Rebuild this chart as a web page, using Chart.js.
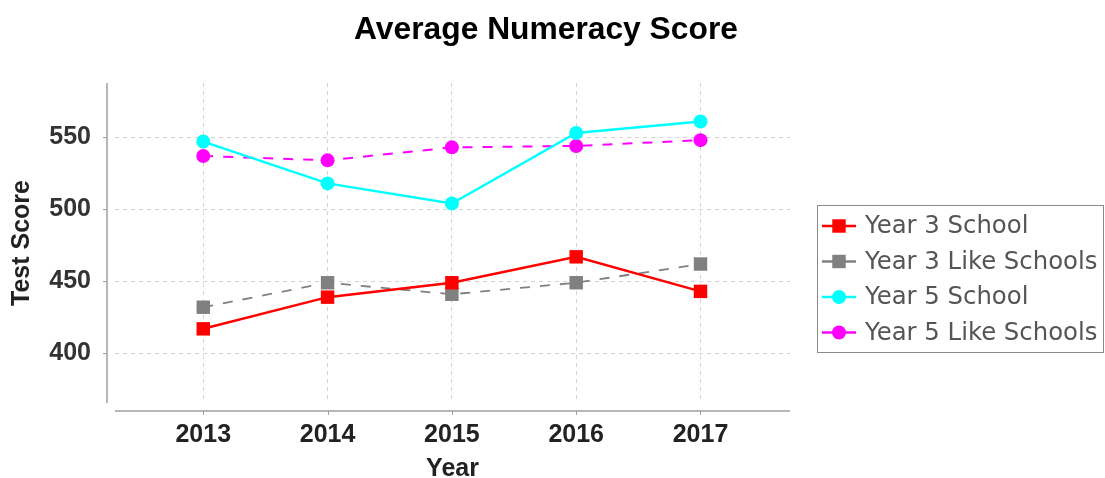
<!DOCTYPE html>
<html><head><meta charset="utf-8">
<script src="https://cdn.jsdelivr.net/npm/chart.js@4.4.0/dist/chart.umd.min.js"></script>
<style>html,body{margin:0;padding:0;background:#fff;}#wrap{width:1105px;height:478px;}</style>
</head><body><div id="wrap"><canvas id="c" width="1105" height="478"></canvas></div>
<script>
const chartTitle = 'Average Numeracy Score';
const xTitle = 'Year';
const yTitle = 'Test Score';
const years = [2013, 2014, 2015, 2016, 2017];
const seriesNames = ['Year 3 School', 'Year 3 Like Schools', 'Year 5 School', 'Year 5 Like Schools'];
const year3School = [417, 439, 449, 467, 443];
const year3Like = [432, 449, 441, 449, 462];
const year5School = [547, 518, 504, 553, 561];
const year5Like = [537, 534, 543, 544, 548];
const yTickValues = [400, 450, 500, 550];
const xTickValues = years;

const pts = arr => arr.map((v, i) => ({x: years[i], y: v}));

const boldFont = '"Liberation Sans", Arial, sans-serif';

const extras = {
  id: 'extras',
  afterDraw(chart) {
    const ctx = chart.ctx;
    const ca = chart.chartArea;
    const xs = chart.scales.x, ys = chart.scales.y;
    ctx.save();
    // title
    ctx.fillStyle = '#000';
    ctx.font = 'bold 31px ' + boldFont;
    ctx.textAlign = 'center';
    ctx.textBaseline = 'alphabetic';
    ctx.save();
    ctx.translate(546, 38.5);
    ctx.scale(1.025, 1);
    ctx.fillText(chartTitle, 0, 0);
    ctx.restore();
    // axis lines
    ctx.strokeStyle = '#a0a0a0';
    ctx.lineWidth = 1.5;
    ctx.beginPath();
    ctx.moveTo(107, ca.top); ctx.lineTo(107, ca.bottom);
    ctx.moveTo(ca.left, 411); ctx.lineTo(ca.right, 411);
    ctx.stroke();
    ctx.lineWidth = 1;
    ctx.beginPath();
    xTickValues.forEach(v => { const px = Math.round(xs.getPixelForValue(v)) + 0.5; ctx.moveTo(px, 411); ctx.lineTo(px, 415); });
    yTickValues.forEach(v => { const py = Math.round(ys.getPixelForValue(v)) + 0.5; ctx.moveTo(103, py); ctx.lineTo(107, py); });
    ctx.stroke();
    // legend
    const lx = 817.5, ly = 205.5, lw = 286, lh = 147;
    ctx.strokeStyle = '#8a8a8a';
    ctx.lineWidth = 1;
    ctx.strokeRect(lx, ly, lw, lh);
    ctx.font = '24px "DejaVu Sans", sans-serif';
    ctx.textAlign = 'left';
    ctx.textBaseline = 'middle';
    chart.data.datasets.forEach((ds, i) => {
      const cy = 226 + i * 35.5;
      ctx.strokeStyle = ds.borderColor;
      ctx.lineWidth = 2.5;
      ctx.setLineDash([]);
      ctx.beginPath(); ctx.moveTo(822, cy); ctx.lineTo(856, cy); ctx.stroke();
      ctx.fillStyle = ds.pointBackgroundColor;
      Chart.helpers.drawPoint(ctx, {pointStyle: ds.pointStyle, radius: ds.pointRadius, rotation: 0, borderWidth: 0}, 839, cy);
      ctx.fillStyle = '#555555';
      ctx.save();
      ctx.translate(865, cy + 1);
      ctx.scale(1.015, 1);
      ctx.fillText(ds.label, 0, 0);
      ctx.restore();
    });
    ctx.restore();
  }
};

const mk = (label, data, color, style, radius, width, dash) => ({
  label, data: pts(data), borderColor: color, backgroundColor: color,
  pointBackgroundColor: color, pointBorderColor: color, pointBorderWidth: 0,
  pointStyle: style, pointRadius: radius, pointHoverRadius: radius,
  borderWidth: width, borderDash: dash, tension: 0, fill: false
});

new Chart(document.getElementById('c'), {
  type: 'line',
  data: {
    datasets: [
      mk(seriesNames[0], year3School, '#ff0000', 'rect', 9.5, 2.5, []),
      mk(seriesNames[1], year3Like, '#808080', 'rect', 9.5, 1.8, [10, 10]),
      mk(seriesNames[2], year5School, '#00ffff', 'circle', 7, 2.5, []),
      mk(seriesNames[3], year5Like, '#ff00ff', 'circle', 7, 2, [10, 10])
    ]
  },
  options: {
    responsive: false,
    animation: false,
    devicePixelRatio: 1,
    layout: {padding: {top: 83, right: 315, left: 0, bottom: 0}},
    plugins: {legend: {display: false}, title: {display: false}, tooltip: {enabled: false}},
    scales: {
      x: {
        type: 'linear', min: 2012.29, max: 2017.72,
        afterFit: s => { s.height = 75; },
        afterBuildTicks: s => { s.ticks = xTickValues.map(v => ({value: v})); },
        grid: {color: '#d4d4d4', drawTicks: false},
        border: {display: false, dash: [4, 4]},
        ticks: {padding: 17, color: '#222', font: {family: boldFont, size: 25, weight: 'bold'}, callback: v => String(v), maxRotation: 0, autoSkip: false},
        title: {display: true, text: xTitle, color: '#222', font: {family: boldFont, size: 25, weight: 'bold', lineHeight: 0.72}, padding: {top: 0, bottom: 0}}
      },
      y: {
        min: 365.5, max: 587.7,
        afterFit: s => { s.width = 115; },
        afterBuildTicks: s => { s.ticks = yTickValues.map(v => ({value: v})); },
        grid: {color: '#d4d4d4', drawTicks: false},
        border: {display: false, dash: [4, 4]},
        ticks: {padding: 24, color: '#333', font: {family: boldFont, size: 25, weight: 'bold'}, autoSkip: false},
        title: {display: true, text: yTitle, color: '#222', font: {family: boldFont, size: 25, weight: 'bold'}, padding: {top: 7, bottom: 0}}
      }
    }
  },
  plugins: [extras]
});
</script>
</body></html>
